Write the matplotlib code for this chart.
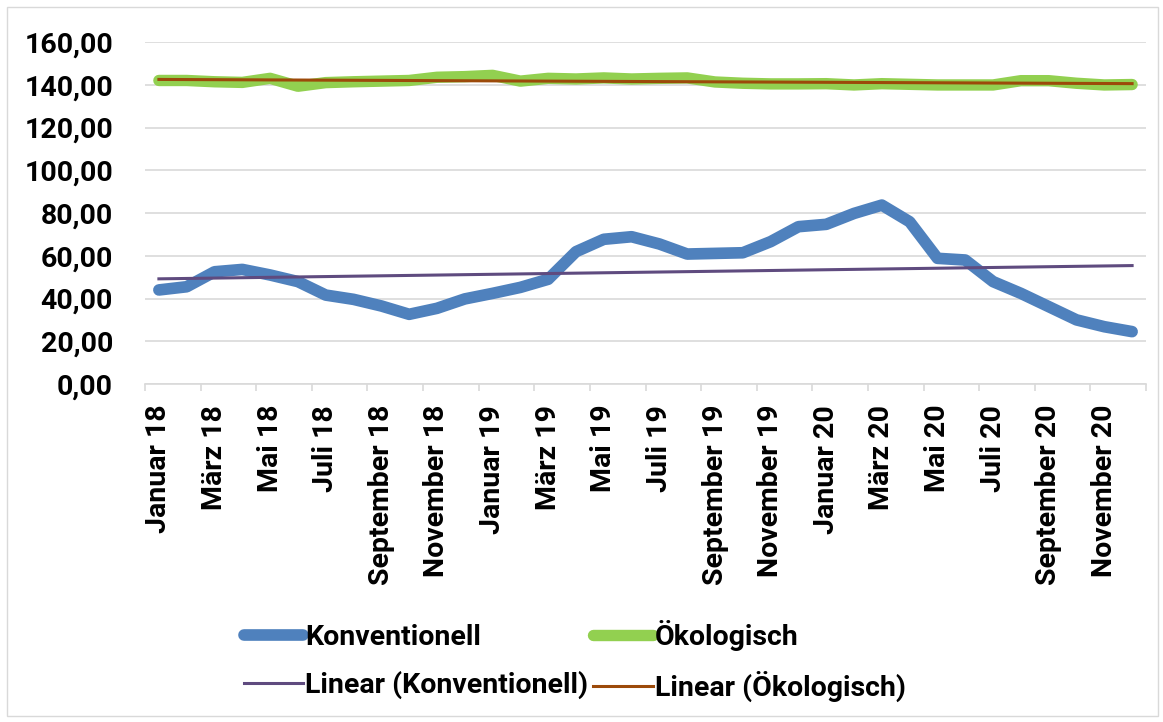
import numpy as np
import matplotlib
matplotlib.use("Agg")
import matplotlib.pyplot as plt
from matplotlib.patches import Rectangle
from matplotlib.ticker import FuncFormatter

plt.rcParams['font.family'] = ['Roboto', 'DejaVu Sans']
plt.rcParams['font.weight'] = 'bold'

# Monatsnamen und Jahre (Januar 2018 - Dezember 2020)
month_names = ["Januar", "Februar", "März", "April", "Mai", "Juni", "Juli",
               "August", "September", "Oktober", "November", "Dezember"]
years = ["18", "19", "20"]
months = [f"{m} {y}" for y in years for m in month_names]

konventionell = [44.0, 45.5, 52.5, 53.6, 51.0, 47.9, 41.6, 39.6, 36.5, 32.6, 35.4, 39.8,
                 42.4, 45.2, 49.0, 61.9, 67.7, 68.9, 65.5, 60.8, 61.1, 61.4, 66.6, 73.6,
                 74.7, 79.8, 83.7, 75.9, 58.8, 58.0, 47.9, 42.4, 36.2, 30.0, 26.8, 24.5]

oekologisch = [142.0, 142.0, 141.4, 141.1, 143.0, 139.3, 141.0, 141.4, 141.7, 142.0, 143.5, 143.8,
               144.4, 141.7, 143.0, 142.7, 143.2, 142.7, 143.0, 143.2, 141.3, 140.7, 140.4, 140.4,
               140.5, 139.9, 140.5, 140.2, 139.9, 139.9, 139.9, 141.9, 141.9, 140.7, 139.9, 140.1]

y_ticks = [0, 20, 40, 60, 80, 100, 120, 140, 160]

x = np.arange(len(months))

# lineare Trends wie in Excel
fit_k = np.polyfit(x, konventionell, 1)
fit_o = np.polyfit(x, oekologisch, 1)

fig = plt.figure(figsize=(11.63, 7.22), dpi=100)
fig.patches.append(Rectangle((0.006, 0.008), 0.99, 0.982, transform=fig.transFigure,
                             fill=False, edgecolor='#d9d9d9', linewidth=1.0))

ax = fig.add_axes([145 / 1163, 1 - 384 / 722, (1146 - 145) / 1163, (384 - 42) / 722])

l_k, = ax.plot(x, konventionell, color='#4F81BD', lw=8.4, solid_capstyle='round',
               label='Konventionell', zorder=3)
l_o, = ax.plot(x, oekologisch, color='#92D050', lw=8.2, solid_capstyle='round',
               label='Ökologisch', zorder=3)
t_k, = ax.plot(x, np.polyval(fit_k, x), color='#5F4B7F', lw=2.2,
               label='Linear (Konventionell)', zorder=4)
t_o, = ax.plot(x, np.polyval(fit_o, x), color='#9C4A0A', lw=2.2,
               label='Linear (Ökologisch)', zorder=4)

ax.set_xlim(-0.5, len(months) - 0.5)
ax.set_ylim(0, 160)
ax.set_yticks(y_ticks)
ax.yaxis.set_major_formatter(FuncFormatter(lambda v, p: f"{v:.2f}".replace('.', ',')))
ax.tick_params(axis='y', length=0, pad=23, labelsize=20.5)

ax.set_xticks(np.arange(-0.5, len(months), 2))
ax.set_xticklabels([])
ax.set_xticks(x[::2], minor=True)
ax.set_xticklabels(months[::2], minor=True, rotation=90)
ax.tick_params(axis='x', which='major', length=5, color='#d9d9d9', width=1.2)
ax.tick_params(axis='x', which='minor', length=0, pad=15, labelsize=20.5)

ax.grid(axis='y', color='#d9d9d9', lw=1.2)
ax.set_axisbelow(True)
for s in ['left', 'right', 'top']:
    ax.spines[s].set_visible(False)
ax.spines['bottom'].set_color('#d9d9d9')
ax.spines['bottom'].set_linewidth(1.2)

# Legende zeilenweise wie in Excel
handles = [l_k, t_k, l_o, t_o]
fig.legend(handles, [h.get_label() for h in handles],
           loc='center', bbox_to_anchor=(0.494, 0.0845), ncol=2, frameon=False,
           fontsize=20.5, handlelength=2.1, handletextpad=0.07, columnspacing=0.15,
           labelspacing=0.7, borderpad=0)

fig.savefig('out.png', dpi=100)
